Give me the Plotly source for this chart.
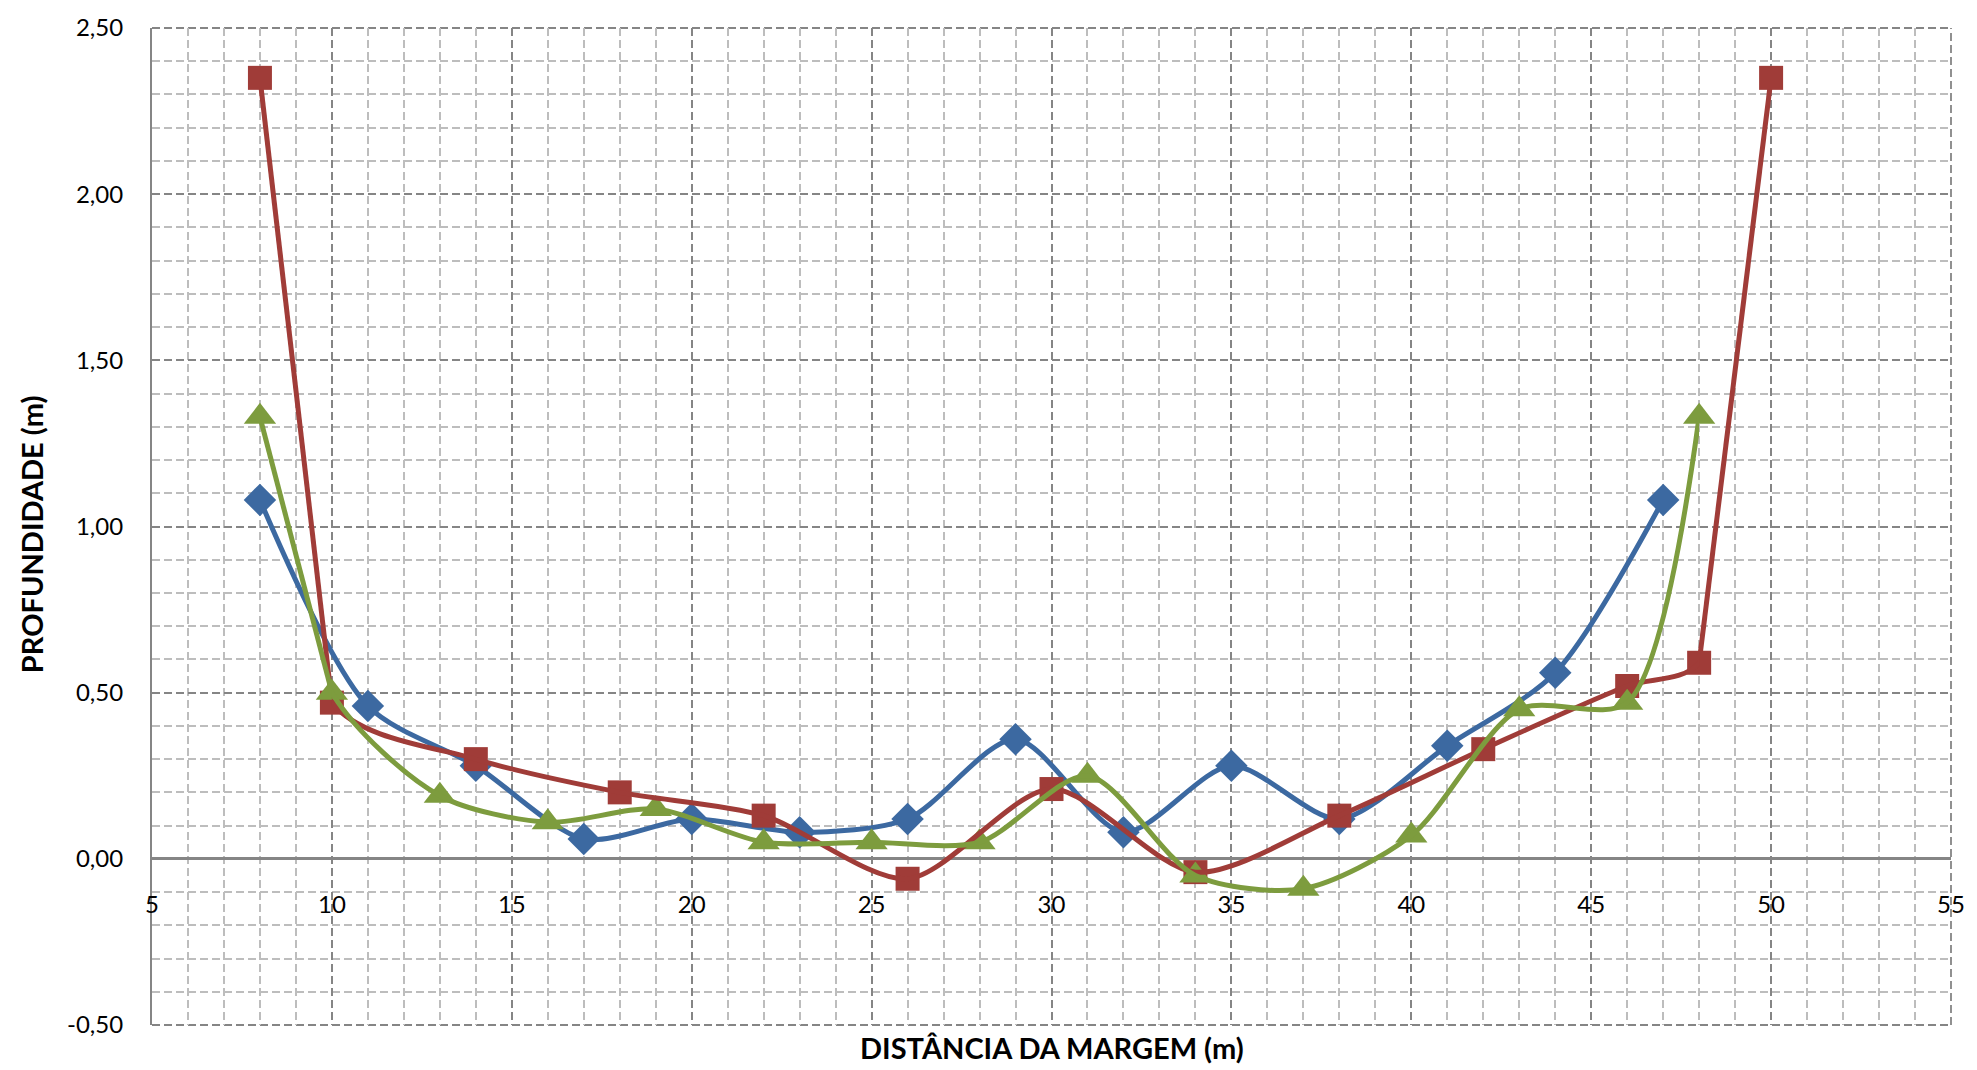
import plotly.graph_objects as go

# ---- data ----
blue_x = [8, 11, 14, 17, 20, 23, 26, 29, 32, 35, 38, 41, 44, 47]
blue_y = [1.08, 0.46, 0.28, 0.06, 0.12, 0.08, 0.12, 0.36, 0.08, 0.28, 0.12, 0.34, 0.56, 1.08]

red_x = [8, 10, 14, 18, 22, 26, 30, 34, 38, 42, 46, 48, 50]
red_y = [2.35, 0.47, 0.30, 0.20, 0.13, -0.06, 0.21, -0.04, 0.13, 0.33, 0.52, 0.59, 2.35]

green_x = [8, 10, 13, 16, 19, 22, 25, 28, 31, 34, 37, 40, 43, 46, 48]
green_y = [1.33, 0.50, 0.19, 0.11, 0.15, 0.05, 0.05, 0.05, 0.25, -0.05, -0.09, 0.07, 0.45, 0.47, 1.33]

x_tickvals = [5, 10, 15, 20, 25, 30, 35, 40, 45, 50, 55]
x_ticktext = ["5", "10", "15", "20", "25", "30", "35", "40", "45", "50", "55"]
y_tickvals = [-0.5, 0.0, 0.5, 1.0, 1.5, 2.0, 2.5]
y_ticktext = ["-0,50", "0,00", "0,50", "1,00", "1,50", "2,00", "2,50"]

x_title = "DISTÂNCIA DA MARGEM (m)"
y_title = "PROFUNDIDADE (m)"

BLUE = "#3C69A1"
RED = "#A03C38"
GREEN = "#7D9C3E"
FONT = "Lato"

W, H = 1977, 1070
ML, MR, MT, MB = 152, 23, 22, 45
LW = 5
SMOOTH = 0.8
XR = [5, 55]
YR = [-0.5, 2.5]

# inner clip window (same pixel scale as main axes) for the smoothed curves,
# so the steep outermost segments can be drawn straight as in the original
clip_lo, clip_hi = red_x[1], red_x[-2]
dom = [(clip_lo - XR[0]) / (XR[1] - XR[0]), (clip_hi - XR[0]) / (XR[1] - XR[0])]

fig = go.Figure()

def add_line(xs, ys, color, shape, clipped=False):
    kw = dict(color=color, width=LW, shape=shape)
    if shape == "spline":
        kw["smoothing"] = SMOOTH
    fig.add_trace(go.Scatter(x=xs, y=ys, mode="lines", line=kw,
                             xaxis="x2" if clipped else "x",
                             yaxis="y2" if clipped else "y",
                             showlegend=False, hoverinfo="skip"))

def add_markers(xs, ys, color, symbol, size):
    fig.add_trace(go.Scatter(
        x=xs, y=ys, mode="markers",
        marker=dict(symbol=symbol, size=size, color=color, line=dict(width=0)),
        showlegend=False, cliponaxis=False,
    ))

# blue: smooth throughout
add_line(blue_x, blue_y, BLUE, "spline")
# red: smooth curve shown between 10 and 48, outer steep segments straight
add_line(red_x, red_y, RED, "spline", clipped=True)
add_line(red_x[:2], red_y[:2], RED, "linear")
add_line(red_x[-2:], red_y[-2:], RED, "linear")
# green: smooth curve shown from 10 on, first steep segment straight
add_line(green_x, green_y, GREEN, "spline", clipped=True)
add_line(green_x[:2], green_y[:2], GREEN, "linear")

add_markers(blue_x, blue_y, BLUE, "diamond", 25)
add_markers(red_x, red_y, RED, "square", 24)
add_markers(green_x, green_y, GREEN, "triangle-up", 28)

MAJOR = "#858585"
MINOR = "#BDBDBD"
DASH = "8px,4px"

border = dict(color=MAJOR, width=1.8, dash=DASH)
shapes = [
    dict(type="line", xref="paper", yref="paper", x0=0, x1=1, y0=1, y1=1, line=border, layer="below"),
    dict(type="line", xref="paper", yref="paper", x0=0, x1=1, y0=0, y1=0, line=border, layer="below"),
    dict(type="line", xref="paper", yref="paper", x0=1, x1=1, y0=0, y1=1, line=border, layer="below"),
]

fig.update_layout(
    width=W, height=H,
    margin=dict(l=ML, r=MR, t=MT, b=MB, pad=0),
    paper_bgcolor="white", plot_bgcolor="rgba(0,0,0,0)",
    font=dict(family=FONT, color="black", size=24),
    shapes=shapes,
    xaxis=dict(
        range=XR, tickvals=x_tickvals, ticktext=x_ticktext,
        anchor="free", position=1/6,
        showgrid=True, gridcolor=MAJOR, griddash=DASH, gridwidth=1.8,
        minor=dict(dtick=1, tick0=5, showgrid=True, gridcolor=MINOR,
                   griddash=DASH, gridwidth=1.5),
        ticks="outside", ticklen=24, tickcolor="rgba(0,0,0,0)",
        showline=False, zeroline=False,
        tickfont=dict(family=FONT, size=24, color="black"),
    ),
    yaxis=dict(
        range=YR, tickvals=y_tickvals, ticktext=y_ticktext,
        showgrid=True, gridcolor=MAJOR, griddash=DASH, gridwidth=1.8,
        minor=dict(dtick=0.1, tick0=0, showgrid=True, gridcolor=MINOR,
                   griddash=DASH, gridwidth=1.5),
        ticks="outside", ticklen=22, tickcolor="rgba(0,0,0,0)",
        showline=True, linecolor=MAJOR, linewidth=2.2,
        zeroline=True, zerolinecolor=MAJOR, zerolinewidth=2.5,
        tickfont=dict(family=FONT, size=24, color="black"),
    ),
    xaxis2=dict(domain=dom, range=[clip_lo, clip_hi], anchor="y2",
                visible=False, showgrid=False, zeroline=False),
    yaxis2=dict(domain=[0, 1], range=YR, anchor="x2",
                visible=False, showgrid=False, zeroline=False),
    annotations=[
        dict(text="<b>%s</b>" % x_title, xref="paper", yref="paper",
             x=0.5, y=-0.023, xanchor="center", yanchor="middle",
             showarrow=False, font=dict(family=FONT, size=29, color="black")),
        dict(text="<b>%s</b>" % y_title, xref="paper", yref="paper",
             x=-0.0666, y=0.4925, xanchor="center", yanchor="middle",
             textangle=-90, showarrow=False,
             font=dict(family=FONT, size=29, color="black")),
    ],
)

fig.write_html("out.html", config={"displayModeBar": False},
               post_script="document.body.style.margin='0';document.body.style.overflow='hidden';")
